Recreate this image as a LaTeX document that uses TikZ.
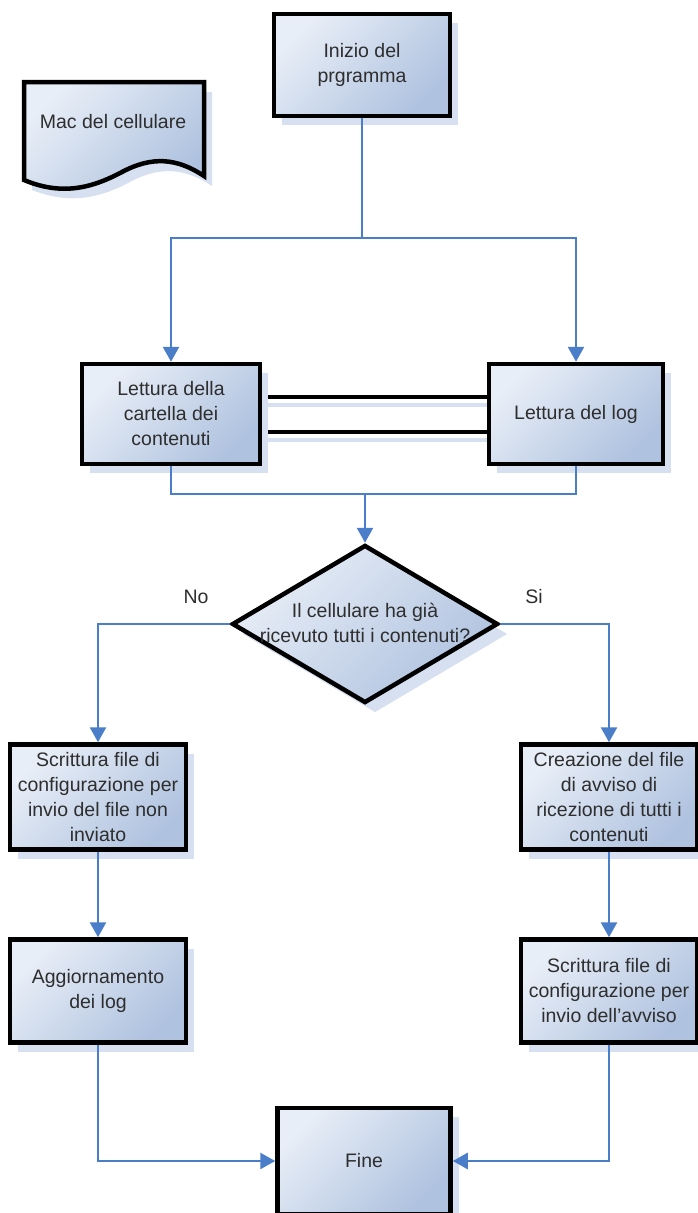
\documentclass[tikz,border=0pt]{standalone}
\usepackage{fontspec}
\setmainfont{Liberation Sans}
\usetikzlibrary{arrows.meta,shapes.geometric,shadows}
\definecolor{boxL}{HTML}{E8EEF7}
\definecolor{boxR}{HTML}{AFC2DF}
\definecolor{shadowc}{HTML}{D7E0F0}
\definecolor{linec}{HTML}{4A7EC8}
\definecolor{txt}{HTML}{2E2E2E}
\tikzset{
  procbox/.style={draw=black, line width=4.5pt, left color=boxL, right color=boxR, shading angle=45,
    drop shadow={shadow xshift=8pt, shadow yshift=-9pt, fill=shadowc, opacity=1},
    text=txt, align=center, inner sep=2pt, font=\fontsize{19.5}{25}\selectfont},
  conn/.style={draw=linec, line width=2.6pt},
  arr/.style={conn, -{Triangle[length=15pt,width=16pt]}},
  lbl/.style={text=txt, font=\fontsize{19.5}{25}\selectfont},
}
\begin{document}
\begin{tikzpicture}[x=1pt,y=-1pt]
\useasboundingbox (0,0) rectangle (698,1213);

% document shape
\fill[shadowc] (32,92) -- (212,92) -- (212,186)
  .. controls (185,168) and (160,166) .. (130,182)
  .. controls (100,198) and (70,205) .. (32,190) -- cycle;
\shade[left color=boxL, right color=boxR, shading angle=45, draw=black, line width=4.5pt]
  (24,82) -- (204,82) -- (204,176)
  .. controls (177,158) and (152,156) .. (122,172)
  .. controls (92,188) and (62,196) .. (24,180) -- cycle;
\node[lbl] (doc) at (113,122) {Mac del cellulare};

% boxes
\node[procbox, minimum width=176pt, minimum height=102pt] (start) at (362,65) {Inizio del\\prgramma};

% double link between the two reading boxes
\draw[shadowc, line width=4.5pt] (268,405) -- (500,405);
\draw[shadowc, line width=4.5pt] (268,440) -- (500,440);
\draw[black, line width=4.5pt] (262,397) -- (487,397);
\draw[black, line width=4.5pt] (262,432) -- (487,432);

\node[procbox, minimum width=178pt, minimum height=100pt] (cart) at (171,414) {Lettura della\\cartella dei\\contenuti};
\node[procbox, minimum width=174pt, minimum height=100pt] (log) at (576,414) {Lettura del log};

\node[diamond, draw=black, line width=4.5pt, left color=boxL, right color=boxR, shading angle=45,
  drop shadow={shadow xshift=10pt, shadow yshift=-10pt, fill=shadowc, opacity=1},
  minimum width=266pt, minimum height=158pt, inner sep=0pt, aspect=1.68] (dec) at (365,624) {};
\node[lbl, align=center] (dectext) at (365,623) {Il cellulare ha già\\ricevuto tutti i contenuti?};
\node[lbl] (no) at (196,597) {No};
\node[lbl] (si) at (534,597) {Si};

\node[procbox, minimum width=176pt, minimum height=105pt] (invio) at (98,797) {Scrittura file di\\configurazione per\\invio del file non\\inviato};
\node[procbox, minimum width=176pt, minimum height=105pt] (crea) at (609,797) {Creazione del file\\di avviso di\\ricezione di tutti i\\contenuti};
\node[procbox, minimum width=176pt, minimum height=103pt] (agg) at (98,991) {Aggiornamento\\dei log};
\node[procbox, minimum width=176pt, minimum height=103pt] (conf) at (609,991) {Scrittura file di\\configurazione per\\invio dell'avviso};
\node[procbox, minimum width=173pt, minimum height=106pt] (fine) at (364,1161) {Fine};

% connectors
\coordinate (split) at (362,238);
\coordinate (join) at (365,494);
\draw[conn] (start.south) -- (split);
\draw[arr] (split) -| (cart.north);
\draw[arr] (split) -| (log.north);
\draw[conn] (cart.south) |- (join);
\draw[conn] (log.south) |- (join);
\draw[arr] (join) -- (dec.north);
\draw[arr] (dec.west) -| (invio.north);
\draw[arr] (dec.east) -| (crea.north);
\draw[arr] (invio.south) -- (agg.north);
\draw[arr] (crea.south) -- (conf.north);
\draw[arr] (agg.south) |- (fine.west);
\draw[arr] (conf.south) |- (fine.east);
\end{tikzpicture}
\end{document}
